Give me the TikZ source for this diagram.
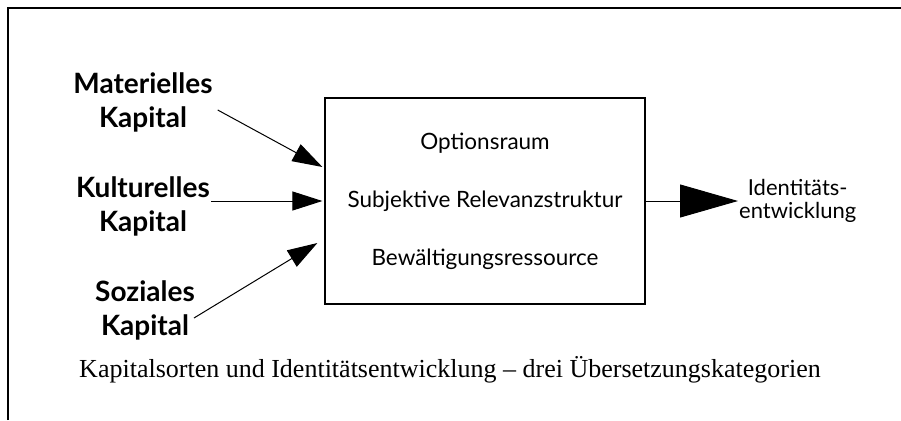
\documentclass[tikz,border=0pt]{standalone}
\usepackage{fontspec}
\setmainfont{Liberation Serif}
\newfontfamily\optfont{Lato}
\usetikzlibrary{arrows.meta}

\tikzset{
  kapital/.style={align=center,inner sep=1pt,font=\optfont\bfseries\fontsize{28}{34}\selectfont},
  inarrow/.style={-{Triangle[length=30pt,width=19pt]},line width=1pt},
  outarrow/.style={-{Triangle[length=58pt,width=33pt]},line width=1pt}
}

\begin{document}
\begin{tikzpicture}[x=1pt,y=-1pt]
    \useasboundingbox (0,0) rectangle (901,420);
    \draw[line width=1.6pt] (8,420) -- (8,8) -- (901,8);

    \node[kapital] (mat) at (143,102) {Materielles\\Kapital};
    \node[kapital] (kul) at (143,206) {Kulturelles\\Kapital};
    \node[kapital] (soz) at (145,310) {Soziales\\Kapital};

    \node[draw,line width=1.2pt,minimum width=320pt,minimum height=206pt,align=center,
      font=\optfont\fontsize{22.5}{58}\selectfont] (box) at (485,201)
      {Optionsraum\\Subjektive Relevanzstruktur\\Bewältigungsressource};

    \node[align=center,inner sep=1pt,anchor=west,font=\optfont\fontsize{22}{23}\selectfont]
      (out) at (738,201) {Identitäts-\\entwicklung};

    \draw[inarrow] ([shift={(4pt,-8pt)}]mat.east) -- ([shift={(-2pt,34pt)}]box.west);
    \draw[inarrow] (kul.east |- box.west) -- ([xshift=-2pt]box.west);
    \draw[inarrow] ([shift={(-2pt,-8pt)}]soz.east) -- ([shift={(-7pt,-42pt)}]box.west);
    \draw[outarrow] (box.east) -- (out.west);

    \node[font=\fontsize{26}{30}\selectfont] (cap) at (450,370)
      {Kapitalsorten und Identitätsentwicklung – drei Übersetzungskategorien};
\end{tikzpicture}
\end{document}
